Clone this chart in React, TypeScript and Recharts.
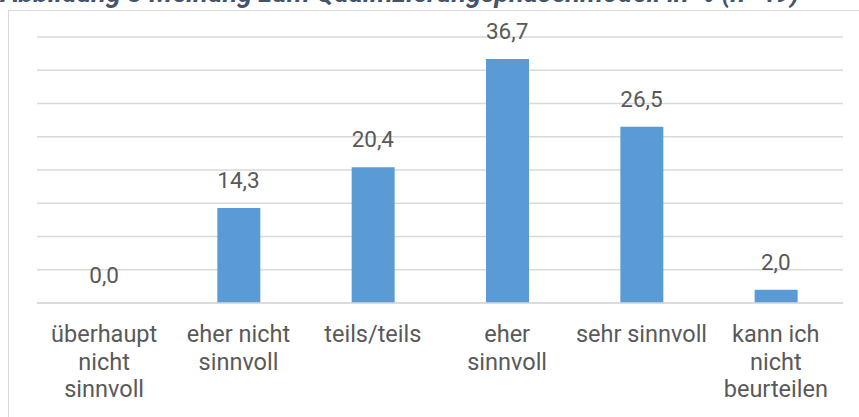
import { ComposedChart, Bar, Line, XAxis, YAxis, CartesianGrid, LabelList } from 'recharts';

const categories = [
  'überhaupt\nnicht\nsinnvoll',
  'eher nicht\nsinnvoll',
  'teils/teils',
  'eher\nsinnvoll',
  'sehr sinnvoll',
  'kann ich\nnicht\nbeurteilen',
];
const percentages = [0.0, 14.3, 20.4, 36.7, 26.5, 2.0];
const yTicks = [0, 5, 10, 15, 20, 25, 30, 35, 40];

const chartData = categories.map((name, i) => ({ name, value: percentages[i] }));

const FONT = 'Roboto, "Liberation Sans", sans-serif';
const TEXT = '#595959';

const CategoryTick = ({ x, y, payload }: any) => {
  const lines = String(payload.value).split('\n');
  return (
    <text x={x} y={y} textAnchor="middle" fill={TEXT} fontSize={23.5} fontFamily={FONT}>
      {lines.map((line: string, i: number) => (
        <tspan key={i} x={x} dy={i === 0 ? 31 : 27.5}>
          {line}
        </tspan>
      ))}
    </text>
  );
};

// labels hang off an invisible line so the 0,0 bar gets one too
const ValueLabel = ({ x, y, value }: any) => (
  <text x={x} y={y - 20} textAnchor="middle" fill={TEXT} fontSize={22.5} fontFamily={FONT}>
    {Number(value).toFixed(1).replace('.', ',')}
  </text>
);

export default function App() {
  return (
    <div style={{ position: 'fixed', left: 0, top: 0, width: 859, height: 417, overflow: 'hidden', background: '#fff' }}>
      <div
        style={{
          position: 'absolute',
          left: 1,
          top: -23,
          fontFamily: FONT,
          fontWeight: 'bold',
          fontStyle: 'italic',
          fontSize: 27,
          color: '#44546A',
          whiteSpace: 'nowrap',
        }}
      >
        Abbildung 3 Meinung zum Qualifizierungsphasenmodell in % (n=49)
      </div>
      <div
        style={{
          position: 'absolute',
          left: 8,
          top: 10,
          width: 870,
          height: 420,
          borderLeft: '1px solid #d9d9d9',
          borderTop: '1px solid #d9d9d9',
        }}
      />
      <div style={{ position: 'absolute', left: 0, top: 0 }}>
        <ComposedChart
          width={859}
          height={417}
          data={chartData}
          margin={{ top: 37, right: 16, left: 37, bottom: 14 }}
        >
          <CartesianGrid vertical={false} stroke="#d9d9d9" strokeWidth={1.3} />
          <YAxis hide domain={[0, 40]} ticks={yTicks} />
          <XAxis
            dataKey="name"
            height={100}
            axisLine={{ stroke: '#d9d9d9', strokeWidth: 1.3 }}
            tickLine={false}
            interval={0}
            tick={<CategoryTick />}
          />
          <Bar dataKey="value" fill="#5B9BD5" barSize={43} isAnimationActive={false} />
          <Line
            dataKey="value"
            stroke="none"
            dot={false}
            activeDot={false}
            legendType="none"
            isAnimationActive={false}
          >
            <LabelList dataKey="value" content={<ValueLabel />} />
          </Line>
        </ComposedChart>
      </div>
    </div>
  );
}
